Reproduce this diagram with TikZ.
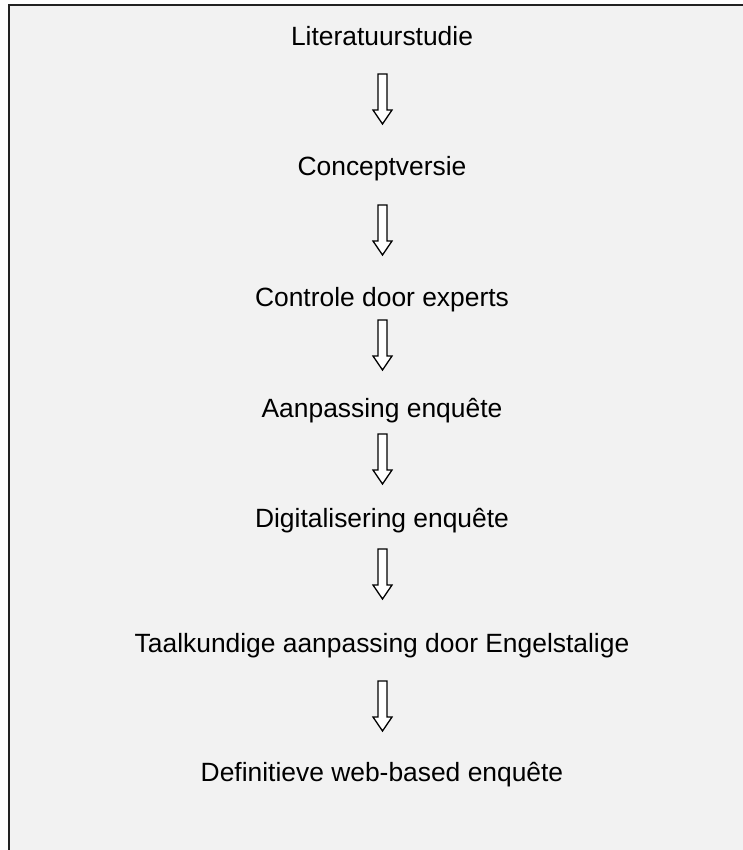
\documentclass[tikz,border=0pt]{standalone}
\usepackage{fontspec}
\setmainfont{Liberation Sans}
\definecolor{panelgray}{HTML}{F2F2F2}
\definecolor{framegray}{HTML}{222222}
\begin{document}
\begin{tikzpicture}[
  x=1pt, y=-1pt,
  stage/.style={anchor=base, inner sep=0pt, font=\fontsize{26.4}{30}\selectfont},
  hollow/.style={draw=black, fill=white, line width=1.3pt, line join=miter},
  blockdown/.style={insert path={++(-4.5,0) -- ++(9,0) -- ++(0,36) -- ++(5,0) -- ++(-9.5,14) -- ++(-9.5,-14) -- ++(5,0) -- cycle}}
]
\useasboundingbox (0,0) rectangle (742,850);
\fill[white] (0,0) rectangle (742,850);

% Frame
\draw[framegray, fill=panelgray, line width=2pt] (9,5) rectangle (770,880);

% Stages
\node[stage] (lit) at (382,46) {Literatuurstudie};
\node[stage] (con) at (382,176) {Conceptversie};
\node[stage] (exp) at (382,306) {Controle door experts};
\node[stage] (aan) at (382,417) {Aanpassing enquête};
\node[stage] (dig) at (382,527) {Digitalisering enquête};
\node[stage] (taal) at (382,652) {Taalkundige aanpassing door Engelstalige};
\node[stage] (def) at (382,781) {Definitieve web-based enquête};

% Arrow tops
\coordinate (a1) at (382.5,74);
\coordinate (a2) at (382.5,205);
\coordinate (a3) at (382.5,320);
\coordinate (a4) at (382.5,434);
\coordinate (a5) at (382.5,549);
\coordinate (a6) at (382.5,681);

% Block arrows
\draw[hollow] (a1) [blockdown];
\draw[hollow] (a2) [blockdown];
\draw[hollow] (a3) [blockdown];
\draw[hollow] (a4) [blockdown];
\draw[hollow] (a5) [blockdown];
\draw[hollow] (a6) [blockdown];

\end{tikzpicture}
\end{document}
